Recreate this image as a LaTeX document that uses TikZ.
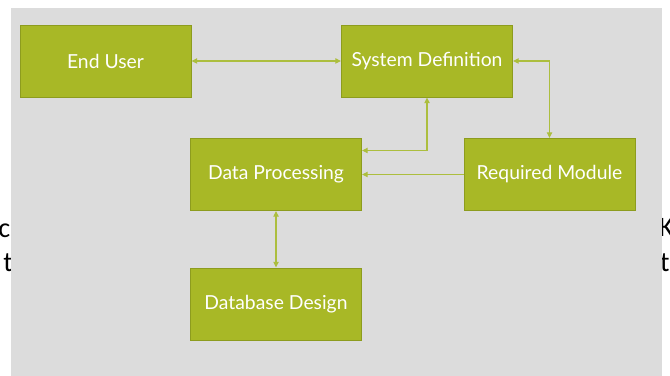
\documentclass[tikz,border=0pt]{standalone}
\usepackage{fontspec}
\setmainfont{Lato}
\newfontfamily\backfont{Carlito}
\usetikzlibrary{arrows.meta,calc,positioning}
\definecolor{boxgreen}{RGB}{168,184,38}
\definecolor{boxedge}{RGB}{141,156,30}
\definecolor{wiregreen}{RGB}{172,190,62}
\definecolor{panelgray}{RGB}{220,220,220}
\tikzset{
  box/.style   = {draw=boxedge, line width=0.8pt, fill=boxgreen, text=white,
                  minimum width=5.13cm, minimum height=2.16cm,
                  font=\fontsize{16.5}{19}\selectfont},
  wire/.style  = {wiregreen, line width=0.9pt},
  link/.style  = {wire, {Triangle[length=1.7mm,width=1.6mm]}-{Triangle[length=1.7mm,width=1.6mm]}},
  feed/.style  = {wire, -{Triangle[length=1.7mm,width=1.6mm]}},
  frag/.style  = {inner sep=0pt, font=\backfont\fontsize{24}{28}\selectfont},
}
\begin{document}
\begin{tikzpicture}[x=0.03cm,y=-0.03cm]
  \clip (0,0) rectangle (670,376);
  % text showing behind the panel
  \node[frag, anchor=base east] (fragc) at (10.5,238) {c};
  \node[frag, anchor=base east] (fragt) at (13,272) {t};
  \node[frag, anchor=base west] (fragk) at (659,237) {K};
  \node[frag, anchor=base west] (fragt2) at (660,272) {t};
  \fill[panelgray] (11,8) rectangle (662,376);
  %
  \node[box] (enduser)  at (105.5,61)  {End User};
  \node[box] (sysdef)   at (427,61)    {System Definition};
  \node[box] (dataproc) at (276,174.5) {Data Processing};
  \node[box] (reqmod)   at (549.5,174.5) {Required Module};
  \node[box] (dbdesign) at (276,304)   {Database Design};
  %
  \draw[link] (enduser) -- (sysdef);
  \draw[link] (sysdef.east) -| (reqmod.north);
  \draw[link] (sysdef.south) |- ([yshift=0.72cm]dataproc.east);
  \draw[feed] (reqmod) -- (dataproc);
  \draw[link] (dataproc) -- (dbdesign);
\end{tikzpicture}
\end{document}
